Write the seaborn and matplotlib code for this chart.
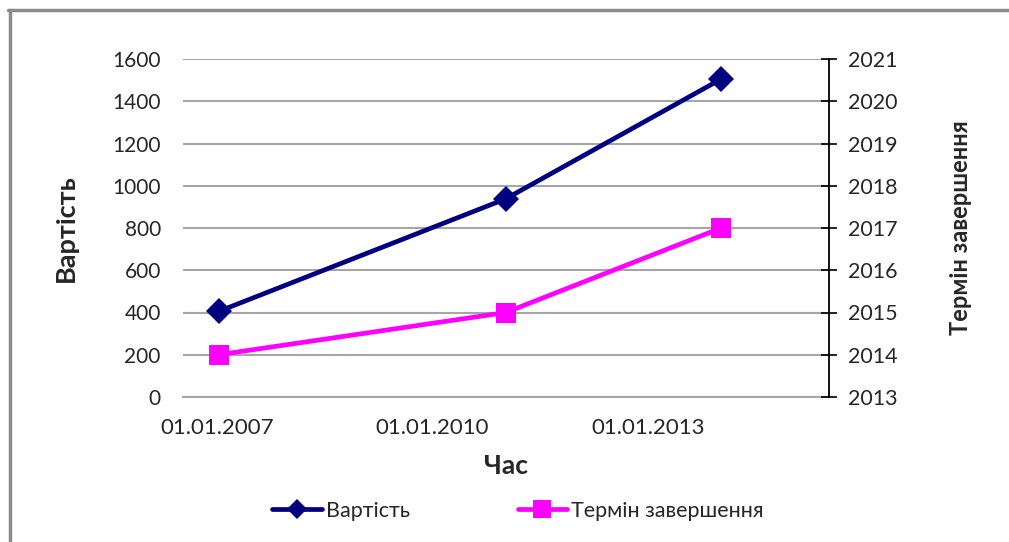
import pandas as pd
import matplotlib.pyplot as plt
import matplotlib.transforms as mtrans
from matplotlib.lines import Line2D
import seaborn as sns

# data
dates = ['2007-07-01', '2011-07-01', '2014-07-01']
cost = [405, 938, 1505]
finish_year = [2014, 2015, 2017]

x_ticks = ['2007-01-01', '2010-01-01', '2013-01-01', '2016-01-01']
x_tick_labels = ['01.01.2007', '01.01.2010', '01.01.2013', '']
left_ticks = [0, 200, 400, 600, 800, 1000, 1200, 1400, 1600]
right_ticks = [2013, 2014, 2015, 2016, 2017, 2018, 2019, 2020, 2021]

df = pd.DataFrame({'date': pd.to_datetime(dates), 'cost': cost, 'finish': finish_year})

sns.set_style('white')
plt.rcParams['font.family'] = ['Lato', 'Open Sans', 'DejaVu Sans']

fig = plt.figure(figsize=(10.09, 5.42), dpi=100)
W, H = 1009, 542
ax = fig.add_axes([183 / W, 1 - 397 / H, (829 - 183) / W, (397 - 59) / H])
ax2 = ax.twinx()

NAVY = '#000080'
MAGENTA = '#ff00ff'

sns.lineplot(data=df, x='date', y='cost', ax=ax, color=NAVY, lw=3.4,
             marker='D', markersize=13, markeredgewidth=0, markerfacecolor=NAVY)
sns.lineplot(data=df, x='date', y='finish', ax=ax2, color=MAGENTA, lw=3.4,
             marker='s', markersize=14, markeredgewidth=0, markerfacecolor=MAGENTA)

ax.set_xlim(pd.Timestamp(x_ticks[0]), pd.Timestamp(x_ticks[-1]))
ax.set_xticks(pd.to_datetime(x_ticks))
ax.set_xticklabels(x_tick_labels)
ax.set_ylim(0, 1600)
ax.set_yticks(left_ticks)
ax2.set_ylim(2013, 2021)
ax2.set_yticks(right_ticks)

ax.yaxis.grid(True, color='#a6a6a6', lw=1.5)
ax.xaxis.grid(False)
ax.set_axisbelow(True)

tick_color = '#262626'
ax.tick_params(axis='x', direction='out', length=7, width=1, color='#a6a6a6',
               labelsize=16, labelcolor=tick_color, pad=8)
ax.tick_params(axis='y', length=0, labelsize=15, labelcolor=tick_color, pad=16)
ax2.tick_params(axis='y', direction='inout', length=12, width=1.2, color='black',
                labelsize=15.5, labelcolor=tick_color, pad=8)

# date labels sit to the right of their ticks, like in the original
shift = mtrans.ScaledTranslation(34 / 100, 0, fig.dpi_scale_trans)
for lbl in ax.get_xticklabels():
    lbl.set_transform(lbl.get_transform() + shift)

for s in ['top', 'left', 'right']:
    ax.spines[s].set_visible(False)
ax.spines['bottom'].set_color('#a6a6a6')
ax.spines['bottom'].set_linewidth(1.5)
for s in ['top', 'left', 'bottom']:
    ax2.spines[s].set_visible(False)
ax2.spines['right'].set_color('black')
ax2.spines['right'].set_linewidth(1.3)

ax.set_xlabel('Час', fontsize=19, fontweight='bold', labelpad=12)
ax.set_ylabel('Вартість', fontsize=19.5, fontweight='bold', labelpad=25)
ax2.set_ylabel('Термін завершення', fontsize=17, fontweight='bold', labelpad=37)

handles = [
    Line2D([], [], color=NAVY, lw=3.4, marker='D', markersize=10, markeredgewidth=0),
    Line2D([], [], color=MAGENTA, lw=3.4, marker='s', markersize=13, markeredgewidth=0),
]
fig.legend(handles, ['Вартість', 'Термін завершення'], loc='center',
           bbox_to_anchor=(518 / W, 1 - 511 / H), ncol=2, frameon=False,
           fontsize=15.5, handlelength=2.3, handletextpad=0.2, columnspacing=5)

# chart frame (top and left edge visible)
fig.add_artist(Line2D([8 / W, 1], [1 - 10 / H, 1 - 10 / H], color='#8c8c8c', lw=2.5,
                      transform=fig.transFigure))
fig.add_artist(Line2D([10 / W, 10 / W], [0, 1 - 10 / H], color='#8c8c8c', lw=2.5,
                      transform=fig.transFigure))

fig.savefig('out.png', dpi=100)
